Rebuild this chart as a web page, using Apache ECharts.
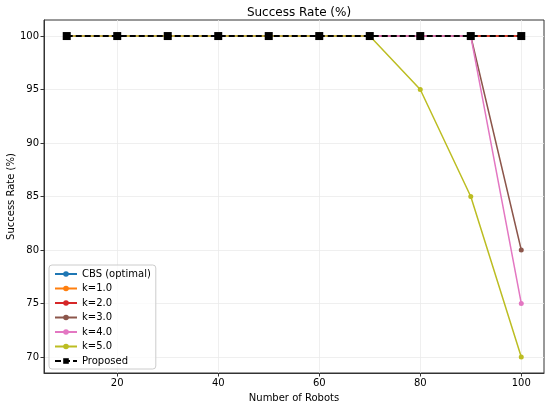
<!DOCTYPE html>
<html><head><meta charset="utf-8">
<script src="https://cdn.jsdelivr.net/npm/echarts@6/dist/echarts.min.js"></script>
<style>html,body{margin:0;padding:0;background:#fff}#c{width:550px;height:407px}</style>
</head><body><div id="c"></div>
<script>
const robots = [10,20,30,40,50,60,70,80,90,100];
const cbs  = [100,100,100,100,100,100,100,100,100,100];
const k1   = [100,100,100,100,100,100,100,100,100,100];
const k2   = [100,100,100,100,100,100,100,100,100,100];
const k3   = [100,100,100,100,100,100,100,100,100,80];
const k4   = [100,100,100,100,100,100,100,100,100,75];
const k5   = [100,100,100,100,100,100,100,95,85,70];
const proposed = [100,100,100,100,100,100,100,100,100,100];
const xTicks = [20,40,60,80,100];
const yTicks = [70,75,80,85,90,95,100];

const font = 'DejaVu Sans';
function pairs(v){ return robots.map((x,i)=>[x,v[i]]); }
function lineSeries(name, v, color){
  return {name, type:'line', data:pairs(v), symbol:'circle', symbolSize:5,
    lineStyle:{color, width:1.5}, itemStyle:{color}, animation:false};
}
const chart = echarts.init(document.getElementById('c'));
chart.setOption({
  animation:false,
  textStyle:{fontFamily:font},
  title:{text:'Success Rate (%)', left:294, top:2, textAlign:'center',
    textStyle:{fontFamily:font, fontSize:12, fontWeight:'normal', color:'#000'}},
  grid:{left:44, right:6, top:20, bottom:34, show:true, borderColor:'#333', borderWidth:1,
    containLabel:false, outerBoundsMode:'none'},
  xAxis:{type:'value', min:5.5, max:104.5, name:'Number of Robots', nameLocation:'middle', nameGap:20,
    nameMoveOverlap:false,
    nameTextStyle:{fontFamily:font, fontSize:10, color:'#000'},
    axisLine:{lineStyle:{color:'#333'}},
    axisTick:{customValues:xTicks, length:3.5, lineStyle:{color:'#333'}},
    axisLabel:{customValues:xTicks, fontFamily:font, fontSize:10, color:'#000', margin:5},
    splitLine:{show:true, lineStyle:{color:'#ebebeb', width:0.8}}},
  yAxis:{type:'value', min:68.5, max:101.5, name:'Success Rate (%)', nameLocation:'middle', nameGap:28,
    nameMoveOverlap:false,
    nameTextStyle:{fontFamily:font, fontSize:10, color:'#000'},
    axisLine:{show:true, lineStyle:{color:'#333'}},
    axisTick:{show:true, customValues:yTicks, length:3.5, lineStyle:{color:'#333'}},
    axisLabel:{customValues:yTicks, fontFamily:font, fontSize:10, color:'#000', margin:5},
    splitLine:{show:true, lineStyle:{color:'#ebebeb', width:0.8}}},
  legend:{orient:'vertical', left:49, bottom:38, backgroundColor:'rgba(255,255,255,0.8)',
    borderColor:'#ccc', borderWidth:1, borderRadius:3, padding:[4,5,3,5], itemGap:4.5,
    itemWidth:22, itemHeight:7, textStyle:{fontFamily:font, fontSize:10, color:'#000'},
    data:['CBS (optimal)','k=1.0','k=2.0','k=3.0','k=4.0','k=5.0','Proposed']},
  series:[
    lineSeries('CBS (optimal)', cbs, '#1f77b4'),
    lineSeries('k=1.0', k1, '#ff7f0e'),
    lineSeries('k=2.0', k2, '#d62728'),
    lineSeries('k=3.0', k3, '#8c564b'),
    lineSeries('k=4.0', k4, '#e377c2'),
    lineSeries('k=5.0', k5, '#bcbd22'),
    {name:'Proposed', type:'line', data:pairs(proposed), symbol:'rect', symbolSize:8,
      lineStyle:{color:'#000', width:2, type:[6,3]}, itemStyle:{color:'#000'}, z:5}
  ]
});
</script></body></html>
